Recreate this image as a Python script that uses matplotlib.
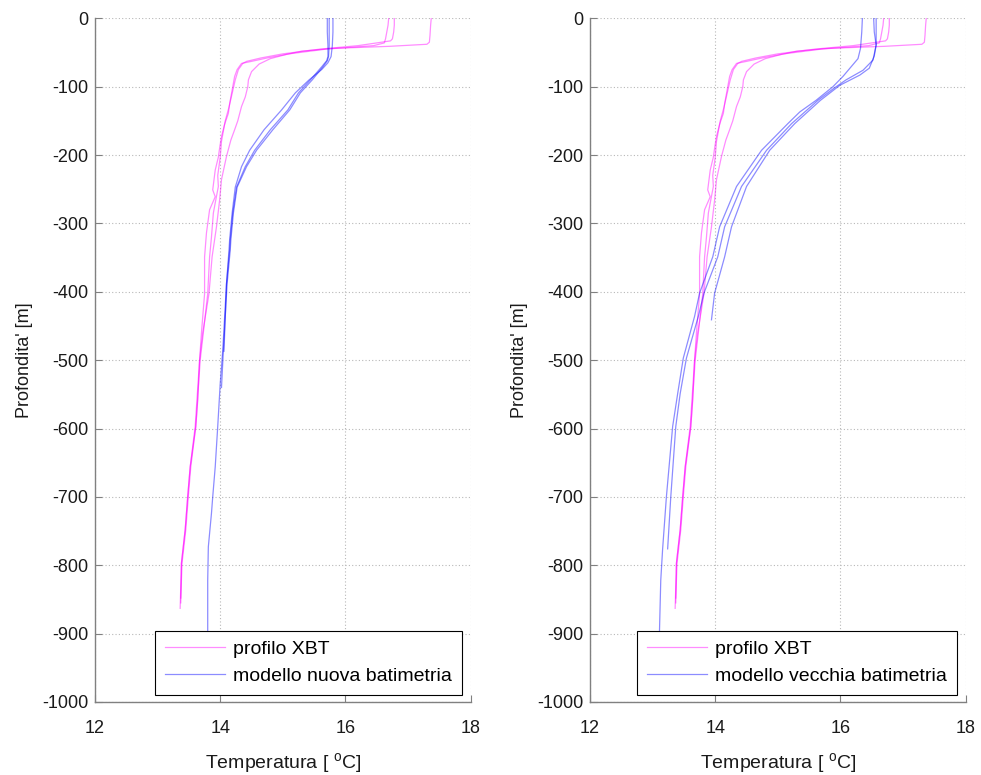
import matplotlib
matplotlib.use("Agg")
import matplotlib.pyplot as plt

plt.rcParams['font.family'] = ['Liberation Sans', 'DejaVu Sans']
plt.rcParams['mathtext.fontset'] = 'custom'
plt.rcParams['mathtext.rm'] = 'Liberation Sans'
plt.rcParams['mathtext.it'] = 'Liberation Sans:italic'
plt.rcParams['axes.unicode_minus'] = False

# ---------------- data ----------------
# XBT profiles (same in both panels)
xbt_a_depth = [0, -10, -25, -35, -38, -41, -44, -48, -53, -59, -67, -78, -90, -100, -115, -129,
               -150, -163, -178, -202, -236, -266, -305, -349, -403, -460, -500, -560, -597,
               -656, -700, -748, -797, -863]
xbt_a_temp = [17.37, 17.36, 17.35, 17.34, 17.30, 16.70, 15.80, 15.30, 15.05, 14.80, 14.62, 14.50,
              14.45, 14.44, 14.40, 14.34, 14.28, 14.23, 14.17, 14.10, 14.02, 13.99, 13.94, 13.87,
              13.82, 13.72, 13.67, 13.64, 13.61, 13.52, 13.48, 13.44, 13.38, 13.36]

xbt_b_depth = [0, -10, -20, -30, -36, -40, -45, -52, -58, -63, -66, -75, -85, -100, -110, -125,
               -139, -155, -173, -190, -203, -222, -251, -261, -280, -314, -349, -403, -460, -500,
               -597, -656, -700, -748, -797, -855]
xbt_b_temp = [16.69, 16.68, 16.66, 16.64, 16.62, 16.45, 15.70, 15.10, 14.75, 14.50, 14.34, 14.27,
              14.23, 14.20, 14.18, 14.15, 14.13, 14.07, 14.02, 13.99, 13.97, 13.92, 13.88, 13.92,
              13.83, 13.78, 13.75, 13.75, 13.70, 13.67, 13.60, 13.52, 13.48, 13.44, 13.38, 13.37]

xbt_c_depth = [0, -10, -20, -30, -33, -36, -40, -45, -52, -58, -63, -66, -75, -90, -110, -130,
               -150, -180, -203, -230, -246, -270, -285, -320, -349, -403, -460, -500, -597, -656,
               -700, -748, -797, -848]
xbt_c_temp = [16.78, 16.78, 16.77, 16.75, 16.72, 16.50, 16.20, 15.60, 15.00, 14.65, 14.42, 14.36,
              14.29, 14.24, 14.19, 14.14, 14.08, 14.02, 14.00, 13.96, 13.97, 13.92, 13.89, 13.86,
              13.83, 13.80, 13.73, 13.68, 13.61, 13.53, 13.49, 13.45, 13.39, 13.37]

# Model, new bathymetry (left panel)
new_a_depth = [0, -20, -40, -56, -62, -71, -90, -109, -134, -163, -193, -217, -247, -285, -324,
               -339, -388, -437, -486, -534, -597, -656, -700, -724, -773, -822, -895, -960]
new_a_temp = [15.71, 15.71, 15.72, 15.72, 15.70, 15.62, 15.44, 15.25, 15.08, 14.80, 14.55, 14.40,
              14.26, 14.20, 14.16, 14.15, 14.10, 14.07, 14.04, 14.00, 13.96, 13.92, 13.88, 13.86,
              13.81, 13.80, 13.80, 13.80]
new_b_depth = [0, -20, -40, -56, -62, -71, -90, -109, -134, -163, -193, -217, -247, -285, -324,
               -339, -388, -437, -486, -540]
new_b_temp = [15.74, 15.74, 15.74, 15.73, 15.71, 15.64, 15.47, 15.28, 15.11, 14.84, 14.58, 14.42,
              14.27, 14.21, 14.17, 14.16, 14.11, 14.08, 14.05, 14.02]
new_c_depth = [0, -20, -40, -56, -65, -75, -90, -109, -134, -163, -193, -217, -247, -285, -324,
               -339, -388, -437, -487]
new_c_temp = [15.80, 15.80, 15.79, 15.77, 15.72, 15.62, 15.42, 15.20, 14.98, 14.70, 14.47, 14.34,
              14.24, 14.19, 14.15, 14.14, 14.10, 14.08, 14.06]

# Model, old bathymetry (right panel)
old_a_depth = [0, -20, -44, -59, -85, -100, -120, -137, -154, -193, -246, -305, -349, -402, -436,
               -497, -549, -597, -700, -776, -822, -895, -960]
old_a_temp = [16.35, 16.34, 16.32, 16.28, 16.04, 15.88, 15.61, 15.35, 15.16, 14.74, 14.34, 14.07,
              13.96, 13.75, 13.67, 13.49, 13.40, 13.32, 13.22, 13.16, 13.13, 13.11, 13.10]
old_b_depth = [0, -20, -39, -61, -76, -90, -102, -120, -154, -193, -246, -305, -349, -402, -436,
               -497, -549, -597, -700, -776]
old_b_temp = [16.53, 16.54, 16.57, 16.52, 16.36, 16.09, 15.90, 15.64, 15.22, 14.82, 14.42, 14.15,
              14.04, 13.82, 13.73, 13.54, 13.44, 13.37, 13.29, 13.24]
old_c_depth = [0, -20, -39, -55, -73, -83, -98, -120, -154, -193, -246, -305, -349, -402, -441]
old_c_temp = [16.57, 16.57, 16.57, 16.54, 16.46, 16.31, 15.99, 15.68, 15.27, 14.87, 14.50, 14.26,
              14.15, 13.99, 13.94]

x_ticks = [12, 14, 16, 18]
y_ticks = list(range(-1000, 1, 100))
xbt_label = "profilo XBT"
new_label = "modello nuova batimetria"
old_label = "modello vecchia batimetria"
xlabel = r"Temperatura [ $^{\rm o}$C]"
ylabel = "Profondita' [m]"

# ---------------- plotting ----------------
W, H = 981, 775
fig = plt.figure(figsize=(W / 100, H / 100), dpi=100)
ax_l = fig.add_axes([95 / W, 1 - 702 / H, 375.7 / W, 683.7 / H])
ax_r = fig.add_axes([590 / W, 1 - 702 / H, 375.7 / W, 683.7 / H])

xbt_kw = dict(color='#ff00ff', alpha=0.45, lw=0.9)
mod_kw = dict(color='#0000ff', alpha=0.45, lw=0.9)

panels = [
    (ax_l, [(new_a_temp, new_a_depth), (new_b_temp, new_b_depth), (new_c_temp, new_c_depth)], new_label),
    (ax_r, [(old_a_temp, old_a_depth), (old_b_temp, old_b_depth), (old_c_temp, old_c_depth)], old_label),
]

for ax, models, mlabel in panels:
    h1 = None
    for t, d in [(xbt_a_temp, xbt_a_depth), (xbt_b_temp, xbt_b_depth), (xbt_c_temp, xbt_c_depth)]:
        line, = ax.plot(t, d, **xbt_kw)
        h1 = h1 or line
    h2 = None
    for t, d in models:
        line, = ax.plot(t, d, **mod_kw)
        h2 = h2 or line

    ax.set_xlim(12, 18)
    ax.set_ylim(-1000, 0)
    ax.set_xticks(x_ticks)
    ax.set_yticks(y_ticks)
    ax.grid(True, color='#b8b8b8', linestyle=(0, (1, 2)), lw=0.8)
    for s in ('top', 'right'):
        ax.spines[s].set_visible(False)
    for s in ('left', 'bottom'):
        ax.spines[s].set_color('#808080')
        ax.spines[s].set_linewidth(1.0)
    ax.tick_params(axis='both', direction='in', length=5, color='#808080',
                   labelsize=13, labelcolor='#1a1a1a')
    ax.tick_params(axis='x', pad=13)
    ax.tick_params(axis='y', pad=5)
    ax.set_xlabel(xlabel, fontsize=14, color='#1a1a1a', labelpad=10)
    ax.set_ylabel(ylabel, fontsize=13, color='#1a1a1a', labelpad=6)

    leg = ax.legend([h1, h2], [xbt_label, mlabel], loc='lower right',
                    bbox_to_anchor=(0.976, 0.0102), borderaxespad=0,
                    fancybox=False, edgecolor='black', framealpha=1,
                    fontsize=14, handlelength=3.1, handletextpad=0.4,
                    labelspacing=0.5, borderpad=0.5)
    leg.get_frame().set_linewidth(0.8)

fig.savefig("out.png", dpi=100)
